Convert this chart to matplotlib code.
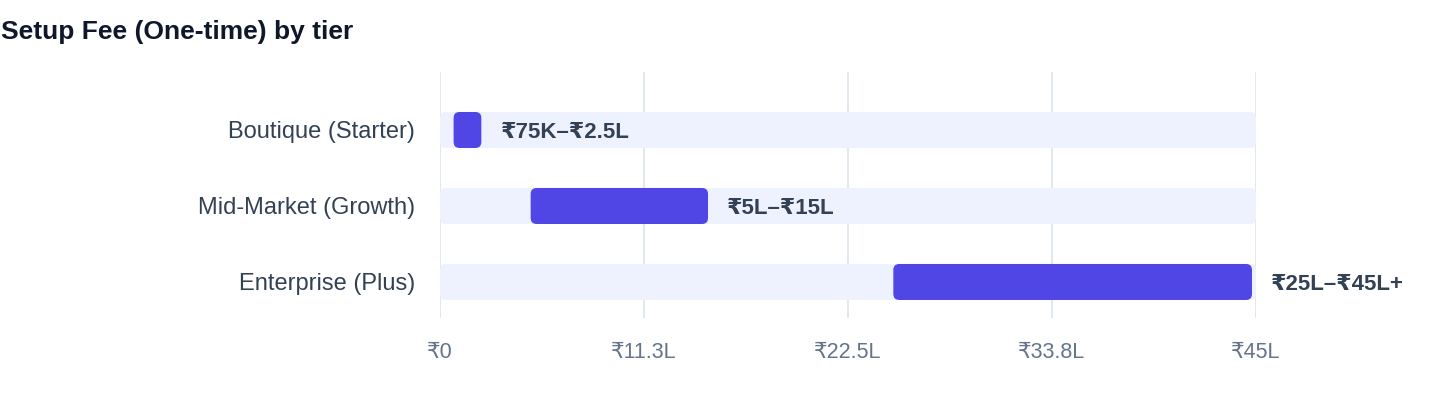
import matplotlib
matplotlib.use("Agg")
import matplotlib.pyplot as plt
from matplotlib.patches import FancyBboxPatch

plt.rcParams['font.family'] = ['Liberation Sans', 'DejaVu Sans']

# data (in lakh rupees)
tiers = ['Boutique (Starter)', 'Mid-Market (Growth)', 'Enterprise (Plus)']
low = [0.75, 5, 25]
high = [2.5, 15, 45]
range_labels = ['₹75K–₹2.5L', '₹5L–₹15L', '₹25L–₹45L+']
tick_vals = [0, 11.25, 22.5, 33.75, 45]
tick_labels = ['₹0', '₹11.3L', '₹22.5L', '₹33.8L', '₹45L']
axis_max = 45

W, H, DPI = 14.4, 4.08, 100
fig = plt.figure(figsize=(W, H), dpi=DPI)
# axes in pixels: x 440..1256, y 72..318
ax = fig.add_axes([440 / 1440, 1 - 318 / 408, 816 / 1440, 246 / 408])

ax.set_xlim(0, axis_max)
ax.set_ylim(2.474, -0.763)

px_x = 816 / axis_max        # pixels per x unit
px_y = 246 / (2.474 + 0.763)  # pixels per y unit
aspect = px_x / px_y
r_px = 6
bar_h = 36 / px_y
inset = 4 / px_x

for i, t in enumerate(tiers):
    # background track
    ax.add_patch(FancyBboxPatch((0, i - bar_h / 2), axis_max, bar_h,
                                boxstyle=f"round,pad=0,rounding_size={r_px / px_x}",
                                mutation_aspect=aspect, fc='#EEF2FF', ec='none', zorder=2))
    # range bar
    ax.add_patch(FancyBboxPatch((low[i], i - bar_h / 2), high[i] - low[i] - inset, bar_h,
                                boxstyle=f"round,pad=0,rounding_size={r_px / px_x}",
                                mutation_aspect=aspect, fc='#4F46E5', ec='none', zorder=3))
    ax.annotate(range_labels[i], (high[i], i), xytext=(11, 0), textcoords='offset points',
                va='center_baseline', ha='left', fontsize=16, fontweight='bold',
                color='#334155', annotation_clip=False, zorder=4)

ax.set_yticks(range(len(tiers)))
ax.set_yticklabels(tiers, fontsize=17, color='#334155')
ax.set_xticks(tick_vals)
ax.set_xticklabels(tick_labels, fontsize=15.5, color='#64748B')
ax.tick_params(axis='both', length=0)
ax.tick_params(axis='x', pad=17)
ax.tick_params(axis='y', pad=18)

for v in tick_vals:
    ax.axvline(v, color='#E2E8F0', lw=1.5, zorder=1)
for s in ax.spines.values():
    s.set_visible(False)

fig.text(1 / 1440, 1 - 32 / 408, 'Setup Fee (One-time) by tier', fontsize=19,
         fontweight='bold', color='#0F172A', va='center', ha='left')

fig.savefig('out.png', dpi=DPI)
